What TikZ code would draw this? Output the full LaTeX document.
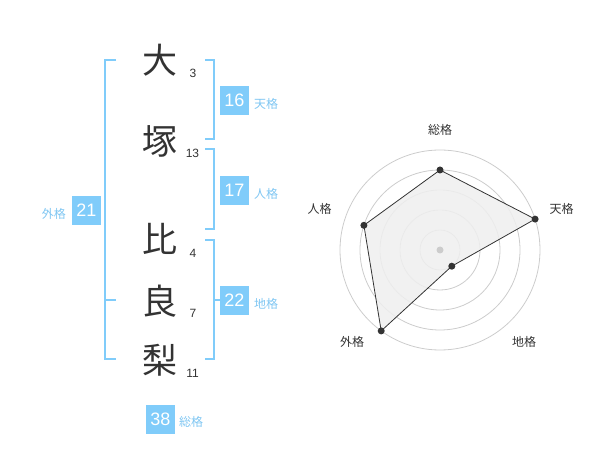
\documentclass[tikz,border=0pt]{standalone}
\usepackage{fontspec}
\setmainfont{Liberation Sans}
\newfontfamily\cjk{Noto Sans CJK JP}
\definecolor{boxblue}{HTML}{80CCFA}
\definecolor{lblblue}{HTML}{7FC6F2}
\definecolor{ink}{HTML}{333333}
\definecolor{ring}{HTML}{CCCCCC}
\definecolor{area}{HTML}{EFEFEF}
\tikzset{
  kanji/.style={font=\cjk\fontsize{35}{35}\selectfont, text=ink, inner sep=0pt},
  strokes/.style={font=\fontsize{12}{12}\selectfont, text=ink, inner sep=0pt},
  valbox/.style={fill=boxblue, text=white, minimum width=29pt, minimum height=29pt, inner sep=0pt, font=\fontsize{18}{18}\selectfont},
  kaku/.style={font=\cjk\fontsize{12}{12}\selectfont, text=lblblue, inner sep=0pt},
  bracket/.style={draw=boxblue, line width=2pt},
  axislbl/.style={font=\cjk\fontsize{12}{12}\selectfont, text=ink, inner sep=0pt},
  ringline/.style={draw=ring, line width=0.8pt},
  dot/.style={circle, fill=ink, inner sep=0pt, minimum size=7pt},
}
\begin{document}
\begin{tikzpicture}[x=1pt,y=-1pt]
\useasboundingbox (0,0) rectangle (600,470);
% characters
\node[kanji] (c1) at (160,60) {大};
\node[kanji] (c2) at (160,141) {塚};
\node[kanji] (c3) at (160,239) {比};
\node[kanji] (c4) at (160,301) {良};
\node[kanji] (c5) at (160,360) {梨};
\node[strokes] (n1) at (193,73) {3};
\node[strokes] (n2) at (192.5,153) {13};
\node[strokes] (n3) at (193,253) {4};
\node[strokes] (n4) at (193,313) {7};
\node[strokes] (n5) at (192.5,373) {11};
% brackets
\draw[bracket] (116,60) -- (105,60) -- (105,359) -- (116,359);
\draw[bracket] (105,300) -- (116,300);
\draw[bracket] (205,60) -- (214,60) -- (214,139) -- (205,139);
\draw[bracket] (205,149) -- (214,149) -- (214,229) -- (205,229);
\draw[bracket] (205,240) -- (214,240) -- (214,359) -- (205,359);
\draw[bracket] (214,300) -- (222,300);
% value boxes
\node[valbox] (b16) at (234.5,100.5) {16};
\node[kaku, anchor=west] (k16) at (254,104) {天格};
\node[valbox] (b17) at (234.5,190.5) {17};
\node[kaku, anchor=west] (k17) at (254,194) {人格};
\node[valbox] (b21) at (86.5,210.5) {21};
\node[kaku, anchor=east] (k21) at (66,214) {外格};
\node[valbox] (b22) at (234.5,300.5) {22};
\node[kaku, anchor=west] (k22) at (254,304) {地格};
\node[valbox] (b38) at (160.5,419) {38};
\node[kaku, anchor=west] (k38) at (179,422) {総格};
% radar
\coordinate (ctr) at (440,250);
\foreach \r in {20,40,60,80,100} \draw[ringline] (ctr) circle[radius=\r];
\coordinate (pS) at (440,170);
\coordinate (pT) at (535.1,219.1);
\coordinate (pC) at (451.8,266.2);
\coordinate (pG) at (381.2,330.9);
\coordinate (pJ) at (363.9,225.3);
\fill[area, opacity=0.85] (pS) -- (pT) -- (pC) -- (pG) -- (pJ) -- cycle;
\draw[ink, line width=0.8pt] (pS) -- (pT) -- (pC) -- (pG) -- (pJ) -- cycle;
\node[circle, fill=ring, inner sep=0pt, minimum size=7pt] (cdot) at (ctr) {};
\foreach \p in {pS,pT,pC,pG,pJ} \node[dot] at (\p) {};
\node[axislbl] (aS) at (440,130) {総格};
\node[axislbl] (aT) at (561.5,208.5) {天格};
\node[axislbl] (aC) at (524,342) {地格};
\node[axislbl] (aG) at (352,342) {外格};
\node[axislbl] (aJ) at (319.5,208.5) {人格};
\end{tikzpicture}
\end{document}
